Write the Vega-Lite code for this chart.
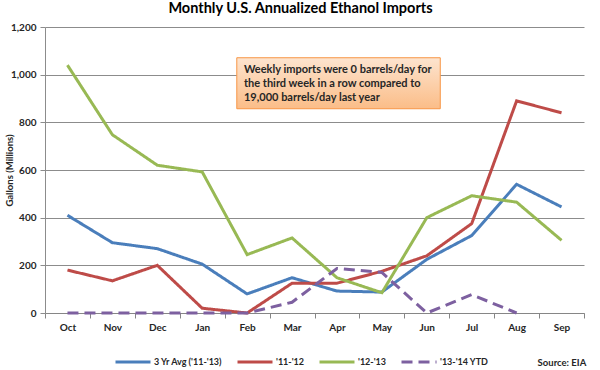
{
  "$schema": "https://vega.github.io/schema/vega-lite/v6.json",
  "autosize": "none",
  "width": 539,
  "height": 286,
  "padding": {"left": 45, "top": 27, "right": 16, "bottom": 57},
  "background": "white",
  "config": {
    "font": "Lato",
    "view": {"stroke": null}
  },
  "title": {
    "text": "Monthly U.S. Annualized Ethanol Imports",
    "fontSize": 14.5,
    "fontWeight": "bold",
    "color": "#000000",
    "anchor": "middle",
    "dx": -14,
    "offset": 6
  },
  "datasets": {
    "series": [
      {"month": "Oct", "series": "3 Yr Avg ('11-'13)", "value": 410},
      {"month": "Nov", "series": "3 Yr Avg ('11-'13)", "value": 295},
      {"month": "Dec", "series": "3 Yr Avg ('11-'13)", "value": 270},
      {"month": "Jan", "series": "3 Yr Avg ('11-'13)", "value": 205},
      {"month": "Feb", "series": "3 Yr Avg ('11-'13)", "value": 80},
      {"month": "Mar", "series": "3 Yr Avg ('11-'13)", "value": 148},
      {"month": "Apr", "series": "3 Yr Avg ('11-'13)", "value": 92},
      {"month": "May", "series": "3 Yr Avg ('11-'13)", "value": 88},
      {"month": "Jun", "series": "3 Yr Avg ('11-'13)", "value": 225},
      {"month": "Jul", "series": "3 Yr Avg ('11-'13)", "value": 325},
      {"month": "Aug", "series": "3 Yr Avg ('11-'13)", "value": 540},
      {"month": "Sep", "series": "3 Yr Avg ('11-'13)", "value": 445},
      {"month": "Oct", "series": "'11-'12", "value": 180},
      {"month": "Nov", "series": "'11-'12", "value": 135},
      {"month": "Dec", "series": "'11-'12", "value": 200},
      {"month": "Jan", "series": "'11-'12", "value": 20},
      {"month": "Feb", "series": "'11-'12", "value": 0},
      {"month": "Mar", "series": "'11-'12", "value": 125},
      {"month": "Apr", "series": "'11-'12", "value": 125},
      {"month": "May", "series": "'11-'12", "value": 175},
      {"month": "Jun", "series": "'11-'12", "value": 240},
      {"month": "Jul", "series": "'11-'12", "value": 375},
      {"month": "Aug", "series": "'11-'12", "value": 890},
      {"month": "Sep", "series": "'11-'12", "value": 840},
      {"month": "Oct", "series": "'12-'13", "value": 1040},
      {"month": "Nov", "series": "'12-'13", "value": 748},
      {"month": "Dec", "series": "'12-'13", "value": 620},
      {"month": "Jan", "series": "'12-'13", "value": 592},
      {"month": "Feb", "series": "'12-'13", "value": 245},
      {"month": "Mar", "series": "'12-'13", "value": 315},
      {"month": "Apr", "series": "'12-'13", "value": 148},
      {"month": "May", "series": "'12-'13", "value": 85},
      {"month": "Jun", "series": "'12-'13", "value": 400},
      {"month": "Jul", "series": "'12-'13", "value": 492},
      {"month": "Aug", "series": "'12-'13", "value": 465},
      {"month": "Sep", "series": "'12-'13", "value": 305},
      {"month": "Oct", "series": "'13-'14 YTD", "value": 0},
      {"month": "Nov", "series": "'13-'14 YTD", "value": 0},
      {"month": "Dec", "series": "'13-'14 YTD", "value": 0},
      {"month": "Jan", "series": "'13-'14 YTD", "value": 0},
      {"month": "Feb", "series": "'13-'14 YTD", "value": 0},
      {"month": "Mar", "series": "'13-'14 YTD", "value": 45},
      {"month": "Apr", "series": "'13-'14 YTD", "value": 187},
      {"month": "May", "series": "'13-'14 YTD", "value": 170},
      {"month": "Jun", "series": "'13-'14 YTD", "value": 0},
      {"month": "Jul", "series": "'13-'14 YTD", "value": 77},
      {"month": "Aug", "series": "'13-'14 YTD", "value": 0}
    ],
    "box": [
      {"x1": 4.27, "x2": 8.8, "y1": 1071, "y2": 857}
    ],
    "notes": [
      {"x": 4.43, "y": 1018, "text": "Weekly imports were 0 barrels/day  for"},
      {"x": 4.43, "y": 960, "text": "the third week in a row compared to"},
      {"x": 4.43, "y": 902, "text": "19,000 barrels/day  last year"}
    ],
    "source": [
      {"x": 12.05, "y": -210, "text": "Source: EIA"}
    ]
  },
  "layer": [
    {
      "data": {"name": "series"},
      "mark": {"type": "line", "strokeWidth": 3, "clip": false},
      "encoding": {
        "x": {
          "field": "month",
          "type": "nominal",
          "sort": ["Oct","Nov","Dec","Jan","Feb","Mar","Apr","May","Jun","Jul","Aug","Sep"],
          "scale": {"type": "band", "paddingInner": 0, "paddingOuter": 0},
          "bandPosition": 0.5,
          "axis": {
            "title": null,
            "labelAngle": 0,
            "tickBand": "extent",
            "grid": false,
            "domainColor": "#868686",
            "tickColor": "#868686",
            "tickSize": 5,
            "labelPadding": 4,
            "labelFontSize": 10,
            "labelFontWeight": "bold",
            "labelColor": "#262626"
          }
        },
        "y": {
          "field": "value",
          "type": "quantitative",
          "scale": {"domain": [0, 1200], "nice": false},
          "axis": {
            "title": "Gallons (Millions)",
            "titleFontSize": 9.5,
            "titleFontWeight": "bold",
            "titleColor": "#262626",
            "titleX": -36,
            "titleY": 143,
            "titleAlign": "center",
            "titleBaseline": "middle",
            "values": [0, 200, 400, 600, 800, 1000, 1200],
            "format": ",.0f",
            "grid": true,
            "gridColor": "#8c8c8c",
            "domainColor": "#8c8c8c",
            "tickColor": "#8c8c8c",
            "tickSize": 5,
            "labelPadding": 4,
            "labelFontSize": 10,
            "labelFontWeight": "bold",
            "labelColor": "#262626"
          }
        },
        "color": {
          "field": "series",
          "type": "nominal",
          "scale": {
            "domain": ["3 Yr Avg ('11-'13)", "'11-'12", "'12-'13", "'13-'14 YTD"],
            "range": ["#4a7ebb", "#be4b48", "#98b954", "#7d60a0"]
          },
          "legend": {
            "title": null,
            "orient": "none",
            "direction": "horizontal",
            "legendX": 69,
            "legendY": 316,
            "symbolType": "stroke",
            "symbolSize": 1225,
            "symbolStrokeWidth": 3.5,
            "labelFontSize": 9,
            "labelFontWeight": "bold",
            "labelColor": "#262626",
            "labelOffset": 2,
            "columnPadding": 8
          }
        },
        "strokeDash": {
          "field": "series",
          "type": "nominal",
          "scale": {
            "domain": ["3 Yr Avg ('11-'13)", "'11-'12", "'12-'13", "'13-'14 YTD"],
            "range": [[1, 0], [1, 0], [1, 0], [11, 6]]
          },
          "legend": null
        },
        "strokeWidth": {
          "field": "series",
          "type": "nominal",
          "scale": {
            "domain": ["3 Yr Avg ('11-'13)", "'11-'12", "'12-'13", "'13-'14 YTD"],
            "range": [3, 3, 3, 4.5]
          },
          "legend": null
        },
        "order": {"field": "series", "type": "nominal"}
      }
    },
    {
      "data": {"name": "box"},
      "mark": {
        "type": "rect",
        "stroke": "#f79646",
        "strokeWidth": 1,
        "fill": {
          "gradient": "linear",
          "x1": 0, "y1": 0, "x2": 0, "y2": 1,
          "stops": [
            {"offset": 0, "color": "#fde4cf"},
            {"offset": 1, "color": "#fbbd88"}
          ]
        }
      },
      "encoding": {
        "x": {"field": "x1", "type": "quantitative", "scale": {"domain": [0, 12], "nice": false, "zero": false}, "axis": null},
        "x2": {"field": "x2"},
        "y": {"field": "y1", "type": "quantitative", "scale": {"domain": [0, 1200], "nice": false}, "axis": null},
        "y2": {"field": "y2"}
      }
    },
    {
      "data": {"name": "notes"},
      "mark": {"type": "text", "align": "left", "baseline": "middle", "fontSize": 11, "fontWeight": "bold", "color": "#262626"},
      "encoding": {
        "x": {"field": "x", "type": "quantitative", "scale": {"domain": [0, 12], "nice": false, "zero": false}, "axis": null},
        "y": {"field": "y", "type": "quantitative", "scale": {"domain": [0, 1200], "nice": false}, "axis": null},
        "text": {"field": "text"}
      }
    },
    {
      "data": {"name": "source"},
      "mark": {"type": "text", "align": "right", "baseline": "middle", "fontSize": 9.5, "fontWeight": "bold", "color": "#262626", "clip": false},
      "encoding": {
        "x": {"field": "x", "type": "quantitative", "scale": {"domain": [0, 12], "nice": false, "zero": false}, "axis": null},
        "y": {"field": "y", "type": "quantitative", "scale": {"domain": [0, 1200], "nice": false}, "axis": null},
        "text": {"field": "text"}
      }
    }
  ],
  "resolve": {"scale": {"x": "independent", "y": "independent"}}
}
